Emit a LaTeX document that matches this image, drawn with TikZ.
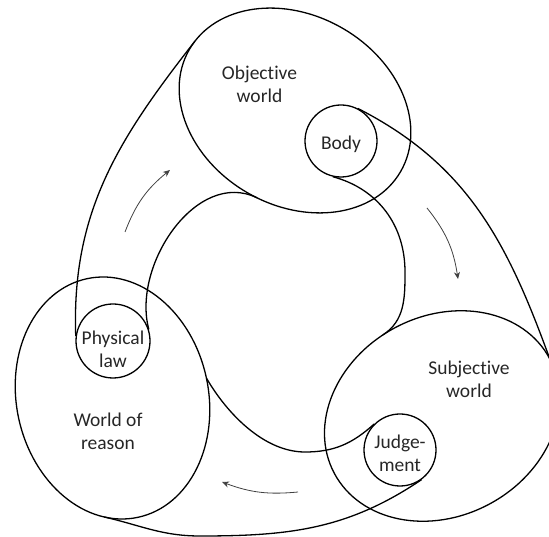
\documentclass[tikz,border=0pt]{standalone}
\usepackage{fontspec}
\setmainfont{Carlito}[Ligatures=NoCommon]
\usetikzlibrary{arrows.meta}

\begin{document}
\begin{tikzpicture}[
    x=1bp, y=1bp,
    outline/.style={line width=1.3bp, black},
    blob/.style={circle, draw, line width=1.3bp, minimum size=72bp, inner sep=0pt},
    lbl/.style={align=center, text=black!85, font=\fontsize{19.5bp}{23.5bp}\selectfont},
    flow/.style={-{Stealth[length=7bp,width=6bp]}, line width=0.8bp, black!75}
]
\path[use as bounding box, clip] (0,0) rectangle (549,537);

% ========== three worlds ==========
\begin{scope}[shift={(295,426.5)}, rotate=-30]
    \draw[outline] (0,0) ellipse [x radius=122, y radius=95]; % objective
    \coordinate (objA) at (174:122 and 95);
    \coordinate (objB) at (275:122 and 95);
\end{scope}

\begin{scope}[shift={(442,121)}, rotate=28]
    \draw[outline] (0,0) ellipse [x radius=122, y radius=100]; % subjective
    \coordinate (subA) at (0:122 and 100);
    \coordinate (subB) at (96.6:122 and 100);
\end{scope}

\begin{scope}[shift={(112.5,139)}, rotate=12]
    \draw[outline] (0,0) ellipse [x radius=96, y radius=122]; % reason
    \coordinate (resA) at (0:96 and 122);
    \coordinate (resB) at (250:96 and 122);
\end{scope}

% ========== small circles ==========
\node[blob] (body) at (341,396) {};
\node[blob, minimum size=74bp] (phys) at (113,196) {};
\node[blob] (judge) at (400,87) {};

% labels
\node[lbl] (objlbl) at (259.5,452.75) {Objective\\world};
\node[lbl] (subjlbl) at (469,157.5) {Subjective\\world};
\node[lbl] (reasonlbl) at (108,105.75) {World of\\reason};
\node[lbl] (bodylbl) at (341,392.75) {Body};
\node[lbl] (physlbl) at (113,187.75) {Physical\\law};
\node[lbl] (judgelbl) at (400,83.75) {Judge-\\ment};

% ========== tubes ==========
\coordinate (bodyturn) at (405,265);
\coordinate (judgeturn) at (305,85);
\coordinate (judgefloor) at (200,1);

\draw[outline] (phys.172) to[out=92, in=232] (objA);
\draw[outline] (phys.18) to[out=105, in=154] (objB);

\draw[outline] (body.63) to[out=-27, in=110] (subA);
\draw[outline] (body.257) to[out=-15, in=90] (bodyturn)
    to[out=-90, in=33] (subB);

\draw[outline] (judge.135) to[out=222, in=0] (judgeturn)
    to[out=180, in=-60, looseness=0.85] (resA);
\draw[outline] (judge.-54) to[out=214, in=0] (judgefloor)
    to[out=180, in=-13] (resB);

% ========== arrows ==========
\coordinate (up1) at (125,305);
\coordinate (up2) at (170,367);
\coordinate (dn1) at (427,329);
\coordinate (dn2) at (458,258);
\coordinate (lf1) at (298,45);
\coordinate (lf2) at (222,55);

\draw[flow] (up1) to[bend left=15] (up2);
\draw[flow] (dn1) to[bend left=15] (dn2);
\draw[flow] (lf1) to[bend left=13] (lf2);

\end{tikzpicture}
\end{document}
